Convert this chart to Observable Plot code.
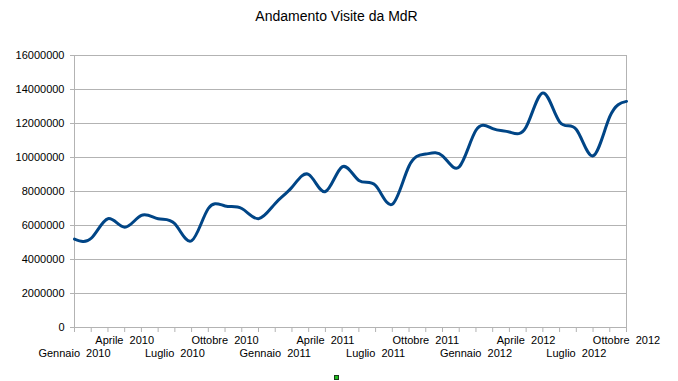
<!DOCTYPE html>
<html>
<head>
<meta charset="utf-8">
<script src="https://cdn.jsdelivr.net/npm/d3@7"></script>
<script src="https://cdn.jsdelivr.net/npm/@observablehq/plot@0.6"></script>
<style>
  html, body { margin: 0; padding: 0; background: #fff; }
  #wrap { position: relative; width: 678px; height: 381px; }
  svg text { white-space: pre; }
  #legendMark { position: absolute; left: 334px; top: 375px; width: 3px; height: 3px; background: #1fbf1f; border: 1px solid #1a3a1a; }
</style>
</head>
<body>
<div id="wrap"></div>
<script>
const title = "Andamento Visite da MdR";

const months = [
  "Gennaio  2010", "Febbraio  2010", "Marzo  2010", "Aprile  2010", "Maggio  2010", "Giugno  2010",
  "Luglio  2010", "Agosto  2010", "Settembre  2010", "Ottobre  2010", "Novembre  2010", "Dicembre  2010",
  "Gennaio  2011", "Febbraio  2011", "Marzo  2011", "Aprile  2011", "Maggio  2011", "Giugno  2011",
  "Luglio  2011", "Agosto  2011", "Settembre  2011", "Ottobre  2011", "Novembre  2011", "Dicembre  2011",
  "Gennaio  2012", "Febbraio  2012", "Marzo  2012", "Aprile  2012", "Maggio  2012", "Giugno  2012",
  "Luglio  2012", "Agosto  2012", "Settembre  2012", "Ottobre  2012"
];

const visits = [
  5200000, 5250000, 6400000, 5900000, 6600000, 6400000,
  6100000, 5100000, 7000000, 7150000, 7000000, 6400000,
  7300000, 8250000, 9000000, 8000000, 9450000, 8650000,
  8350000, 7250000, 9500000, 10200000, 10100000, 9450000,
  11600000, 11700000, 11500000, 11800000, 13800000, 12100000,
  11650000, 10100000, 12400000, 13300000
];

const yTicks = [0, 2000000, 4000000, 6000000, 8000000, 10000000, 12000000, 14000000, 16000000];

const monthIdx = months.map((m, i) => i);
const row1Idx = monthIdx.filter(i => i % 6 === 3);
const row2Idx = monthIdx.filter(i => i % 6 === 0);

const data = months.map((m, i) => ({idx: i, month: m, value: visits[i]}));

const chart = Plot.plot({
  width: 678,
  height: 381,
  marginLeft: 74,
  marginRight: 52,
  marginTop: 55,
  marginBottom: 54,
  style: {fontFamily: "'Liberation Sans', Arial, sans-serif", fontSize: "11px", color: "#000", background: "#fff"},
  x: {type: "linear", domain: [0, months.length - 1]},
  y: {domain: [0, 16000000]},
  marks: [
    Plot.gridY(yTicks, {stroke: "#b3b3b3", strokeOpacity: 1}),
    Plot.frame({stroke: "#b3b3b3"}),
    Plot.axisY(yTicks, {tickSize: 4, tickPadding: 6, tickFormat: d3.format("d"), stroke: "#b3b3b3", label: null}),
    Plot.axisX(monthIdx, {tickSize: 5, tickFormat: () => "", stroke: "#b3b3b3", label: null}),
    Plot.axisX(row1Idx, {tickSize: 0, tickPadding: 9, tickFormat: i => months[i], label: null}),
    Plot.axisX(row2Idx, {tickSize: 0, tickPadding: 22, tickFormat: i => months[i], label: null}),
    Plot.line(data, {x: "idx", y: "value", curve: "natural", stroke: "#004586", strokeWidth: 3}),
    Plot.text([title], {frameAnchor: "top", dy: -44, dx: -14, fontSize: 14, fill: "#000"})
  ]
});

const wrap = document.getElementById("wrap");
wrap.appendChild(chart);
const mark = document.createElement("div");
mark.id = "legendMark";
wrap.appendChild(mark);
</script>
</body>
</html>
